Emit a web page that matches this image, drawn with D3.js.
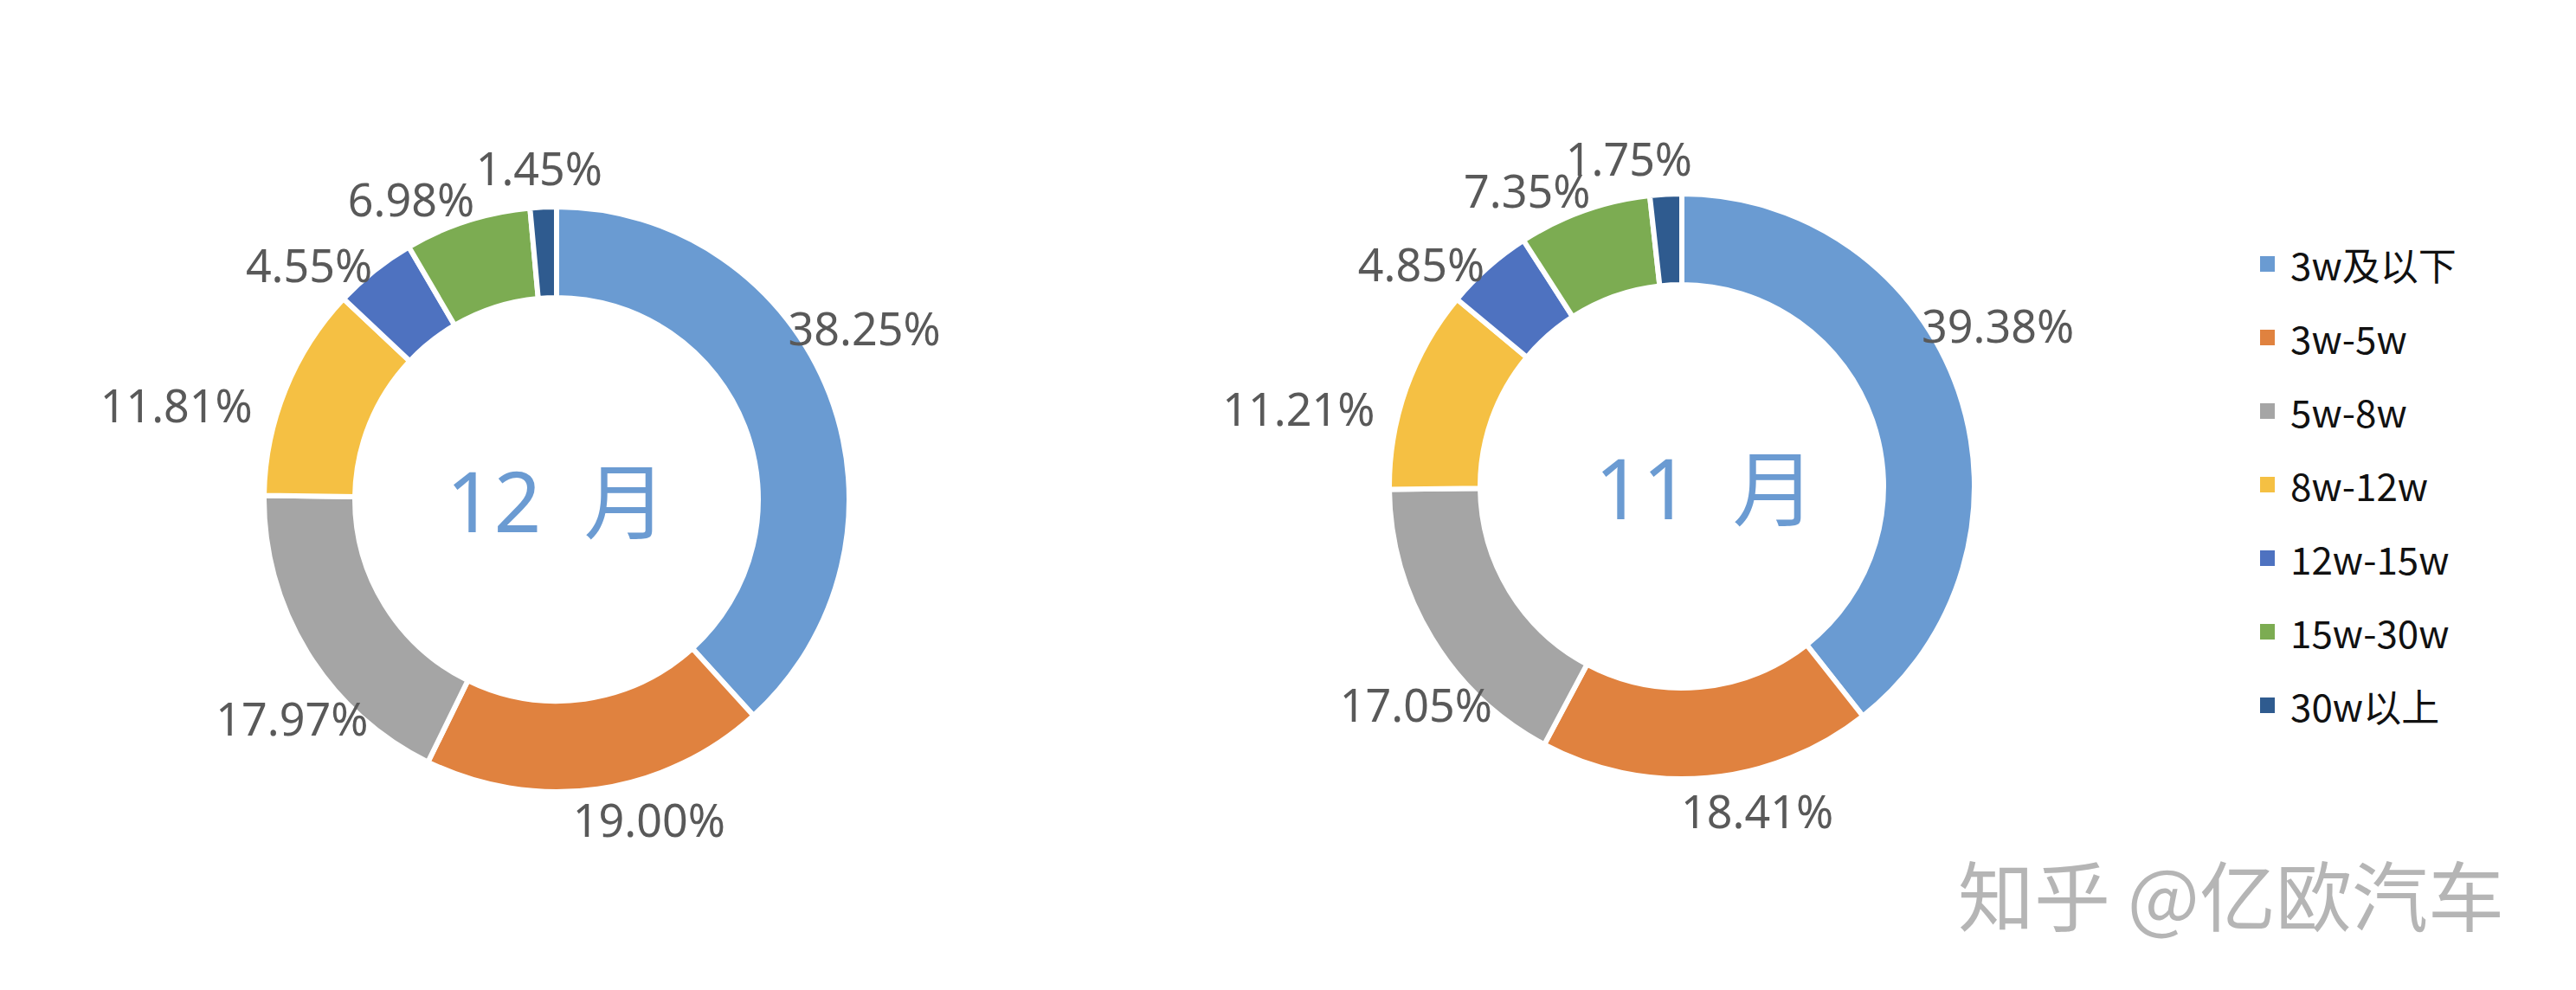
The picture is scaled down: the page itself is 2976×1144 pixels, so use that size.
<!DOCTYPE html>
<html><head><meta charset="utf-8">
<script src="https://cdn.jsdelivr.net/npm/d3@7"></script>
<style>body{margin:0;background:#fff}svg{display:block}</style>
</head><body><svg id="c" width="2976" height="1144"></svg>
<script>
// ---- data ----
const categories = ["3w及以下","3w-5w","5w-8w","8w-12w","12w-15w","15w-30w","30w以上"];
const monthTitles = ["12 月","11 月"];
const decValues = [38.25,19.00,17.97,11.81,4.55,6.98,1.45];
const novValues = [39.38,18.41,17.05,11.21,4.85,7.35,1.75];
const seriesColors = ["#6A9BD2","#E0823F","#A5A5A5","#F5C043","#4E72C0","#7CAC52","#2F5B8F"];
const watermarkText = "知乎 @亿欧汽车";

// ---- layout ----
const W = 2976, H = 1144;
const svg = d3.select("#c");
svg.append("rect").attr("width",W).attr("height",H).attr("fill","#fff");

const charts = [
  {title: monthTitles[0], values: decValues, cx: 643, cy: 577, titleDx: 0},
  {title: monthTitles[1], values: novValues, cx: 1943, cy: 562, titleDx: 27}
];
const R = 338, r = 233;
const color = d3.scaleOrdinal().domain(categories).range(seriesColors);
const pie = d3.pie().sort(null).value(d => d.v).startAngle(0).endAngle(2*Math.PI);
const arc = d3.arc().innerRadius(r).outerRadius(R);
const labelShift = 8 * Math.PI/180, labelPad = 24, halfCap = 22, capBox = 18;

function overlaps(a, b) {
  return !(a.x1 <= b.x0 || b.x1 <= a.x0 || a.y1 <= b.y0 || b.y1 <= a.y0);
}

charts.forEach(ch => {
  const g = svg.append("g").attr("transform", `translate(${ch.cx},${ch.cy})`);
  const data = pie(categories.map((c,i) => ({c, v: ch.values[i]})));
  g.selectAll("path.slice").data(data).join("path")
    .attr("class","slice")
    .attr("d", arc)
    .attr("fill", d => color(d.data.c))
    .attr("stroke", "#fff").attr("stroke-width", 6).attr("stroke-linejoin","miter");

  g.append("text")
    .attr("x", ch.titleDx).attr("y", 0)
    .attr("text-anchor","middle").attr("dominant-baseline","central")
    .style("white-space","pre")
    .attr("font-family","'Noto Sans','Noto Sans CJK SC',sans-serif")
    .attr("font-size", 96).attr("fill","#6B9BD2")
    .attr("word-spacing", 24)
    .text(ch.title);

  const placed = [];
  data.forEach(d => {
    const t = g.append("text")
      .attr("text-anchor","middle").attr("dominant-baseline","central")
      .attr("font-family","'Noto Sans','Open Sans',sans-serif")
      .attr("font-size", 52).attr("fill","#595959")
      .text(d3.format(".2f")(d.data.v) + "%");
    const bb = t.node().getBBox();
    let a = (d.startAngle + d.endAngle)/2 - labelShift;
    let x, y, box, guard = 0;
    do {
      const ux = Math.sin(a), uy = -Math.cos(a);
      const e = Math.min(bb.width/2/Math.max(Math.abs(ux),1e-6), halfCap/Math.max(Math.abs(uy),1e-6));
      const dist = R + labelPad + e;
      x = ux*dist; y = uy*dist;
      box = {x0: x - bb.width/2, x1: x + bb.width/2, y0: y - capBox, y1: y + capBox};
      a += 0.4 * Math.PI/180;
    } while (placed.some(p => overlaps(p, box)) && ++guard < 200);
    placed.push(box);
    t.attr("x", x).attr("y", y);
  });
});

// ---- legend ----
const lg = svg.append("g").attr("transform","translate(2611,305)");
categories.forEach((c,i) => {
  const row = lg.append("g").attr("transform",`translate(0,${i*85})`);
  row.append("rect").attr("x",0).attr("y",-9).attr("width",17).attr("height",18).attr("fill",color(c));
  row.append("text").attr("x",35).attr("y",0).attr("dominant-baseline","central")
    .attr("font-family","'Noto Sans CJK SC','Noto Sans',sans-serif")
    .attr("font-size",44).attr("fill","#111").text(c);
});

// ---- watermark ----
svg.append("text").attr("x",2262).attr("y",1030).attr("dominant-baseline","central")
  .attr("font-family","'Noto Sans CJK SC',sans-serif").attr("font-size",88)
  .attr("fill","#b5b5b5").text(watermarkText);
</script>
</body></html>
